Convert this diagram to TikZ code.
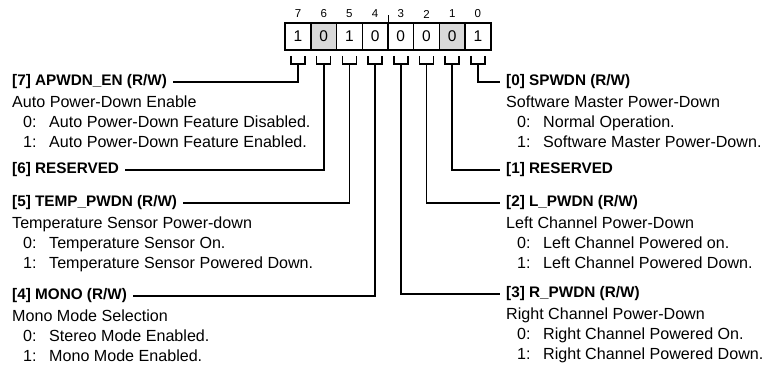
\documentclass[tikz,border=0pt]{standalone}
\usepackage{fontspec}
\setmainfont{Liberation Sans}
\usepackage{xcolor}
\definecolor{bitgray}{HTML}{D9D9D9}
\usetikzlibrary{positioning,calc}
\newcommand{\bitval}[2]{\makebox[37pt][l]{\hspace*{11pt}#1:}#2}

\begin{document}
\begin{tikzpicture}[x=1pt,y=-1pt,
  bitbox/.style={draw,line width=1.5pt,minimum width=25.7pt,minimum height=27pt,inner sep=0pt,font=\fontsize{15.5}{18}\selectfont},
  bitnum/.style={inner sep=0pt,font=\fontsize{11.5}{13}\selectfont},
  fld/.style={inner sep=0pt,anchor=west,font=\fontsize{15.3}{19.7}\selectfont\bfseries},
  desc/.style={inner sep=0pt,anchor=north west,align=left,font=\fontsize{16.1}{19.7}\selectfont},
  conn/.style={line width=1.6pt,shorten >=6pt}]
\useasboundingbox (0,0) rectangle (768,367);
\foreach \i/\v/\c in {7/1/white,6/0/bitgray,5/1/white,4/0/white,3/0/white,2/0/white,1/0/bitgray,0/1/white}{
  \node[bitbox,fill=\c] (b\i) at ({298+(7-\i)*25.7},36.5) {\v};
  \node[bitnum] (n\i) at ({298+(7-\i)*25.7},14) {\i};
  \draw[line width=1.5pt] ([xshift=-7pt]b\i.south) ++(0,5) -- ++(0,8) -- ++(14,0) -- ++(0,-8);
  \coordinate (s\i) at ([yshift=-13pt]b\i.south);
}
\draw[line width=1.5pt] (b4.north east) -- ++(0,-7);

\node[fld] (f7) at (12,82) {[7] APWDN\_EN (R/W)};
\node[desc] (d7) at ([yshift=-14pt]f7.west) {Auto Power-Down Enable\\\bitval{0}{Auto Power-Down Feature Disabled.}\\\bitval{1}{Auto Power-Down Feature Enabled.}};
\node[fld] (f6) at (12,170) {[6] RESERVED};
\node[fld] (f5) at (12,203) {[5] TEMP\_PWDN (R/W)};
\node[desc] (d5) at ([yshift=-14pt]f5.west) {Temperature Sensor Power-down\\\bitval{0}{Temperature Sensor On.}\\\bitval{1}{Temperature Sensor Powered Down.}};
\node[fld] (f4) at (12,296) {[4] MONO (R/W)};
\node[desc] (d4) at ([yshift=-14pt]f4.west) {Mono Mode Selection\\\bitval{0}{Stereo Mode Enabled.}\\\bitval{1}{Mono Mode Enabled.}};

\node[fld] (f0) at (506,82) {[0] SPWDN (R/W)};
\node[desc] (d0) at ([yshift=-14pt]f0.west) {Software Master Power-Down\\\bitval{0}{Normal Operation.}\\\bitval{1}{Software Master Power-Down.}};
\node[fld] (f1) at (506,170) {[1] RESERVED};
\node[fld] (f2) at (506,203) {[2] L\_PWDN (R/W)};
\node[desc] (d2) at ([yshift=-14pt]f2.west) {Left Channel Power-Down\\\bitval{0}{Left Channel Powered on.}\\\bitval{1}{Left Channel Powered Down.}};
\node[fld] (f3) at (506,294) {[3] R\_PWDN (R/W)};
\node[desc] (d3) at ([yshift=-14pt]f3.west) {Right Channel Power-Down\\\bitval{0}{Right Channel Powered On.}\\\bitval{1}{Right Channel Powered Down.}};

\draw[conn] (s7) |- (f7.east);
\draw[conn] (s6) |- (f6.east);
\draw[conn] (s5) |- (f5.east);
\draw[conn] (s4) |- (f4.east);
\draw[conn] (s0) |- (f0.west);
\draw[conn] (s1) |- (f1.west);
\draw[conn] (s2) |- (f2.west);
\draw[conn] (s3) |- (f3.west);
\end{tikzpicture}
\end{document}
